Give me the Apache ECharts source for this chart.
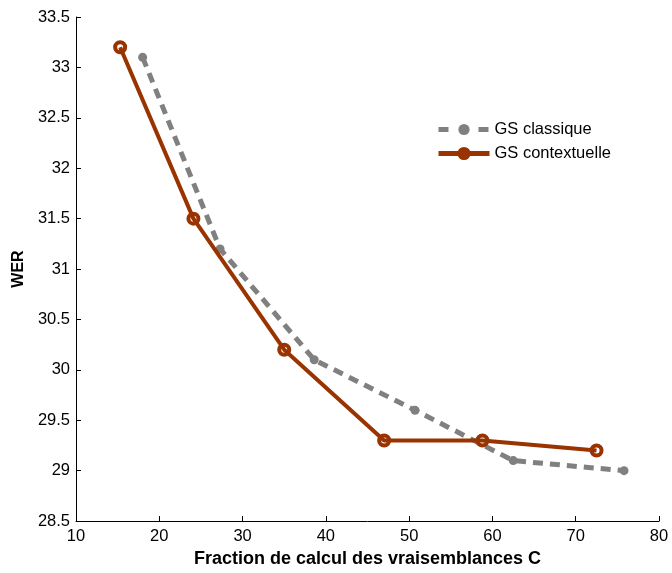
<!DOCTYPE html>
<html><head><meta charset="utf-8">
<script src="https://cdn.jsdelivr.net/npm/echarts@6/dist/echarts.min.js"></script>
<style>html,body{margin:0;padding:0;background:#fff}#c{width:672px;height:573px}</style>
</head><body><div id="c"></div>
<script>
const classiqueX = [18.0, 27.3, 38.6, 50.7, 62.5, 75.8];
const classiqueY = [33.1, 31.2, 30.1, 29.6, 29.1, 29.0];
const contextX = [15.3, 24.1, 35.0, 47.0, 58.8, 72.5];
const contextY = [33.2, 31.5, 30.2, 29.3, 29.3, 29.2];
const seriesNames = ['GS classique', 'GS contextuelle'];
const xTitle = 'Fraction de calcul des vraisemblances C';
const yTitle = 'WER';

const pairs = (xs, ys) => xs.map((x, i) => [x, ys[i]]);
const font = 'Liberation Sans, Arial, sans-serif';
const legendText = {fontFamily: font, fontSize: 16.5, color: '#000'};
const chart = echarts.init(document.getElementById('c'), null, {renderer: 'canvas'});
chart.setOption({
  animation: false,
  backgroundColor: '#fff',
  grid: {left: 76, right: 13, top: 17, bottom: 49, containLabel: false},
  legend: [
    {left: 436, top: 121, padding: 0, itemWidth: 51, itemHeight: 14, itemGap: 0,
     textStyle: legendText,
     data: [{name: seriesNames[0], lineStyle: {type: [10, 30], width: 5}}]},
    {left: 436, top: 145, padding: 0, itemWidth: 51, itemHeight: 14, itemGap: 0,
     textStyle: legendText,
     data: [{name: seriesNames[1], lineStyle: {width: 5, color: '#993300'},
             itemStyle: {color: '#993300', borderColor: '#993300', borderWidth: 2}}]}
  ],
  xAxis: {
    type: 'value', min: 10, max: 80, interval: 10,
    name: xTitle, nameLocation: 'middle', nameGap: 28,
    nameTextStyle: {fontFamily: font, fontSize: 18, fontWeight: 'bold', color: '#000'},
    axisLine: {lineStyle: {color: '#000', width: 1}},
    axisTick: {inside: true, length: 5, lineStyle: {color: '#000'}},
    axisLabel: {fontFamily: font, fontSize: 16.5, color: '#000', margin: 7},
    splitLine: {show: false}
  },
  yAxis: {
    type: 'value', min: 28.5, max: 33.5, interval: 0.5,
    name: yTitle, nameLocation: 'middle', nameGap: 47,
    nameTextStyle: {fontFamily: font, fontSize: 16, fontWeight: 'bold', color: '#000'},
    axisLine: {show: true, lineStyle: {color: '#000', width: 1}},
    axisTick: {show: true, inside: true, length: 5, lineStyle: {color: '#000'}},
    axisLabel: {fontFamily: font, fontSize: 16.5, color: '#000', margin: 6,
      formatter: v => String(Math.round(v * 10) / 10)},
    splitLine: {show: false}
  },
  series: [
    {
      name: seriesNames[0], type: 'line', data: pairs(classiqueX, classiqueY),
      symbol: 'circle', symbolSize: 9,
      lineStyle: {color: '#808080', width: 5, type: [10, 7]},
      itemStyle: {color: '#808080'}, z: 2
    },
    {
      name: seriesNames[1], type: 'line', data: pairs(contextX, contextY),
      symbol: 'circle', symbolSize: 10,
      lineStyle: {color: '#993300', width: 4},
      itemStyle: {color: 'rgba(255,255,255,0)', borderColor: '#993300', borderWidth: 4}, z: 3
    }
  ]
});
</script></body></html>
